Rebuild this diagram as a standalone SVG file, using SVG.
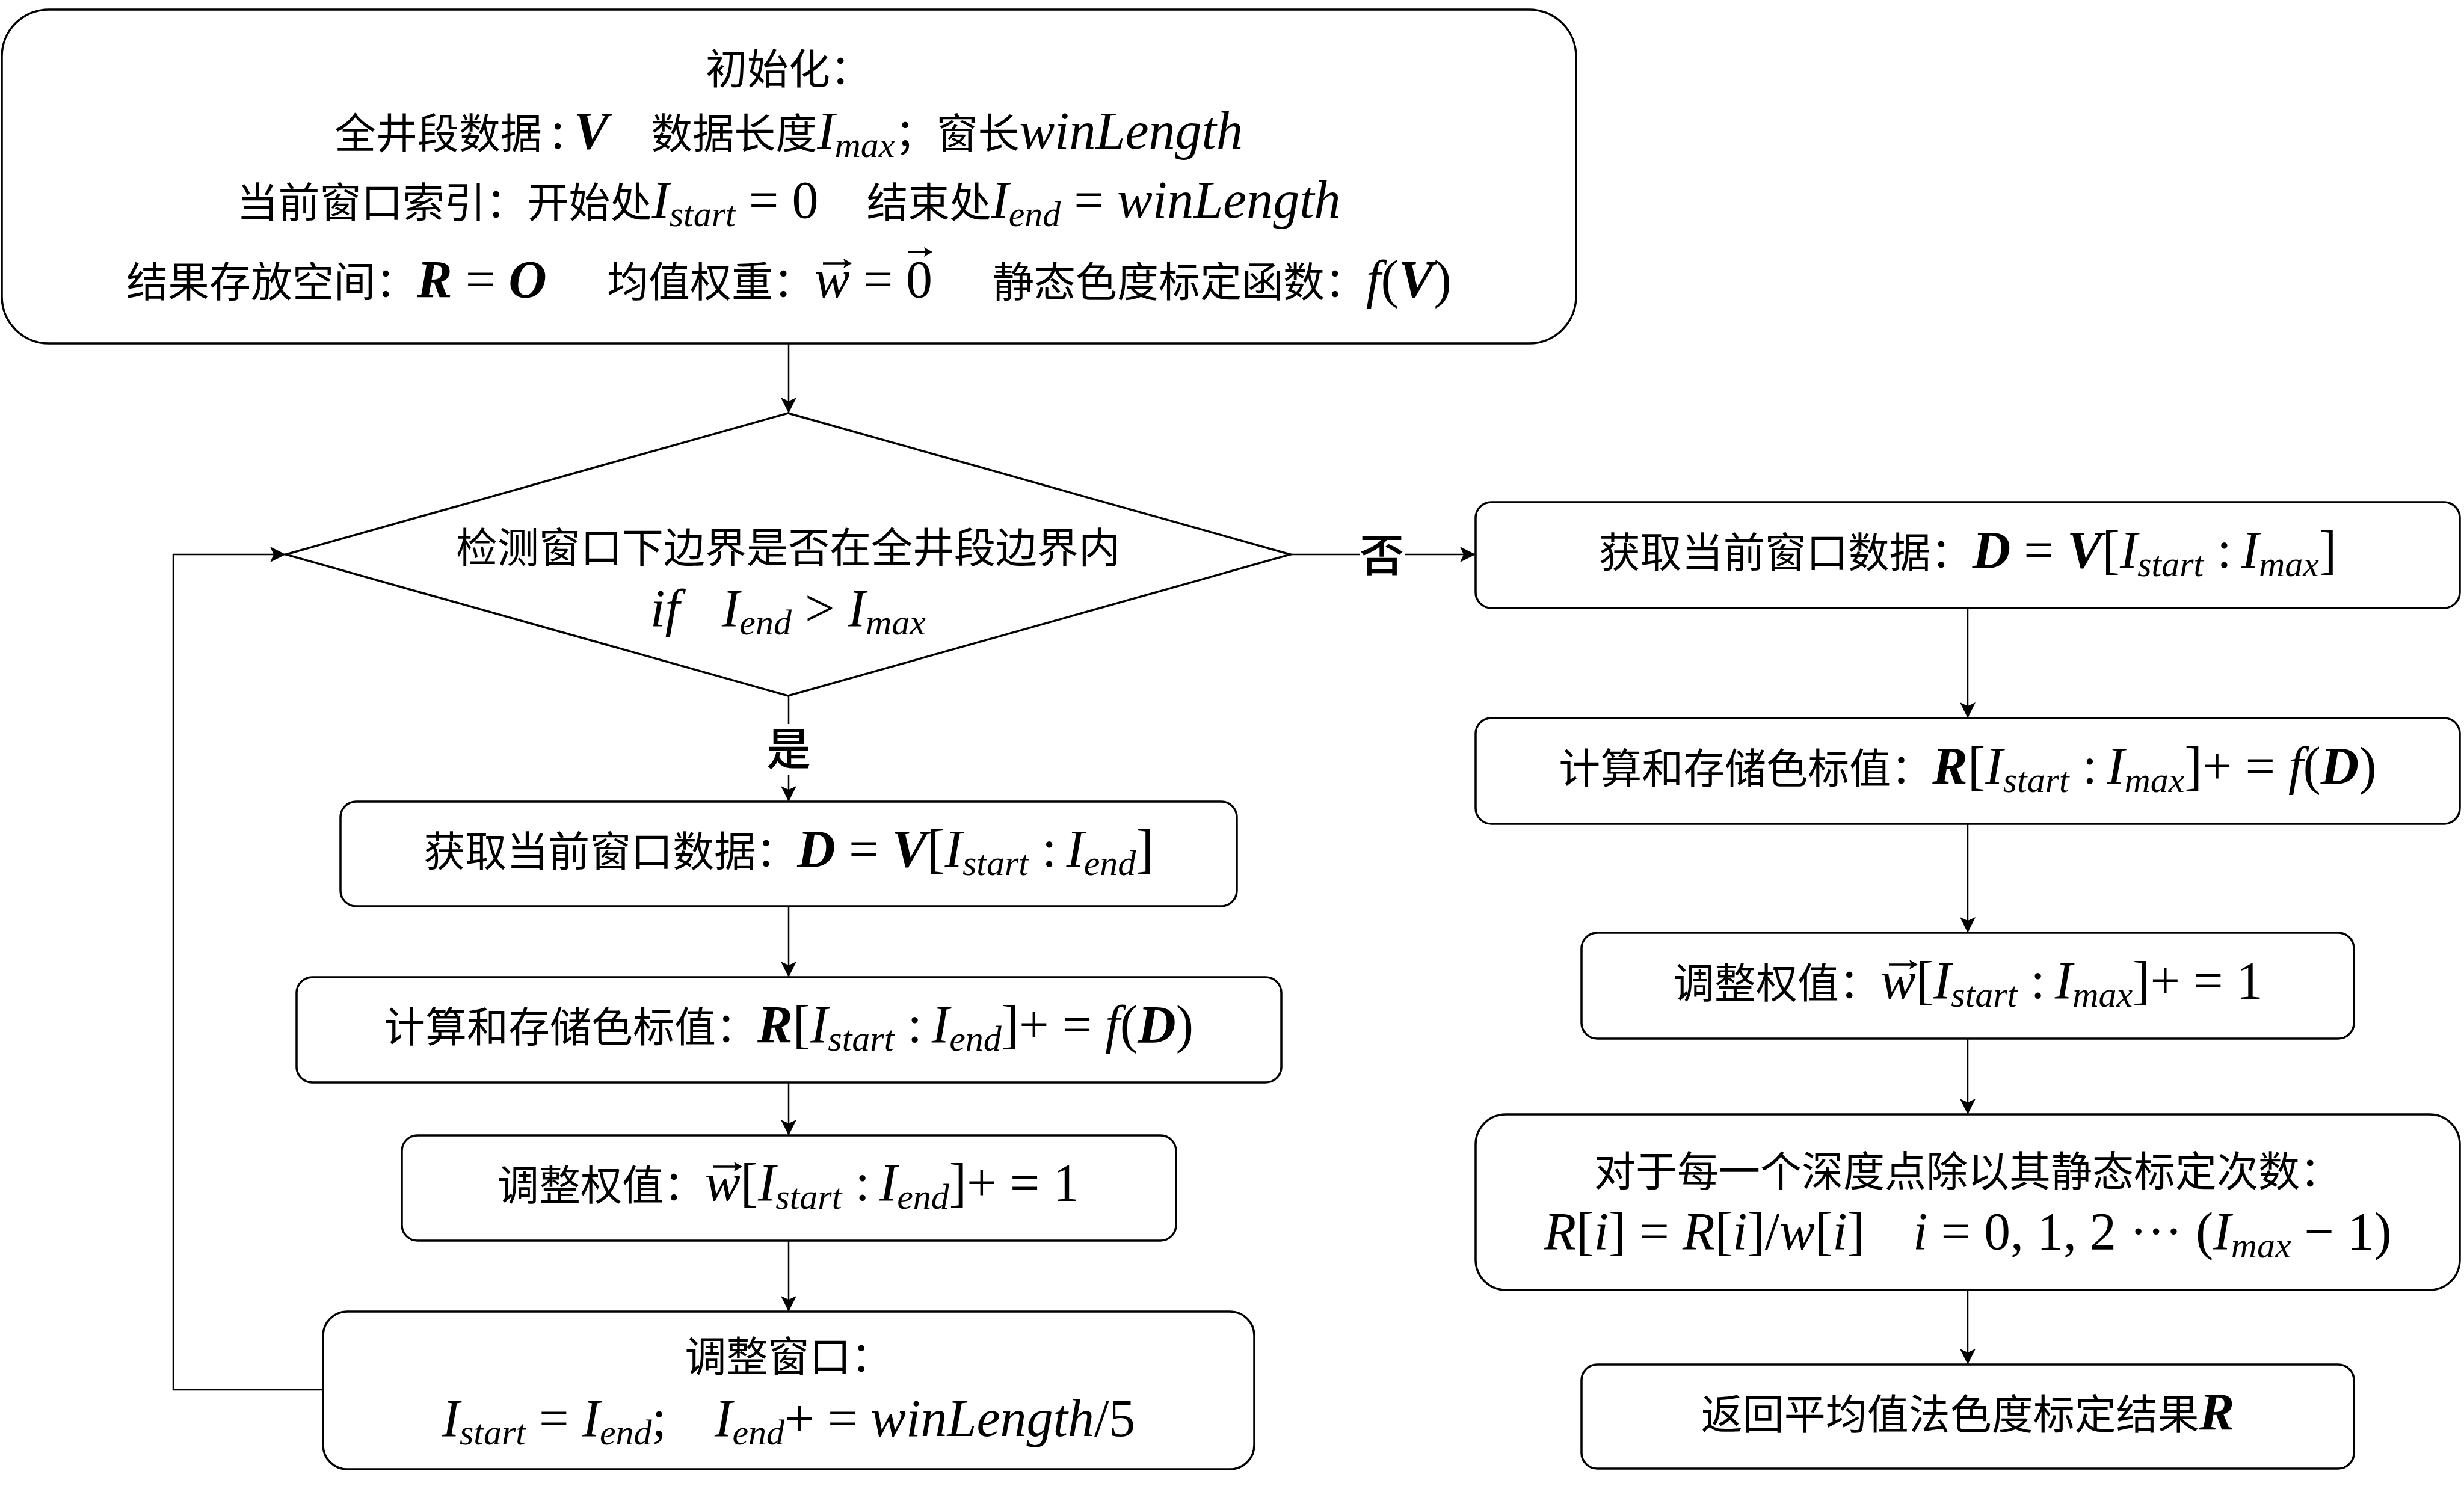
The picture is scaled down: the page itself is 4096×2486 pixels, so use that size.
<svg xmlns="http://www.w3.org/2000/svg" width="4096" height="2486" viewBox="0 0 4096 2486">
<style>
.bg{fill:#fff}
.box{fill:#fff;stroke:#000;stroke-width:3.5}
.con{fill:none;stroke:#000;stroke-width:2.5}
.vec{fill:none;stroke:#000;stroke-width:3.5}
.vh{fill:#000}
.t{font-family:"Noto Sans CJK SC","Noto Sans CJK JP",sans-serif;font-size:69px;fill:#000;text-anchor:middle}
.ts{font-family:"Noto Sans CJK SC","Noto Sans CJK JP",sans-serif;font-size:69px;fill:#000;text-anchor:start}
.lbl{font-family:"Noto Sans CJK SC",sans-serif;font-size:74px;font-weight:500;fill:#000;text-anchor:middle}
.mi{font-family:"Liberation Serif","DejaVu Serif",serif;font-style:italic;font-size:88px}
.mb{font-family:"Liberation Serif","DejaVu Serif",serif;font-style:italic;font-weight:bold;font-size:88px}
.mr{font-family:"Liberation Serif","DejaVu Serif",serif;font-style:normal;font-size:88px}
.s{font-size:60px}
</style>
<defs>
<marker id="arr" markerUnits="userSpaceOnUse" markerWidth="30" markerHeight="30" refX="26" refY="13" orient="auto">
<path d="M0,0 L26,13 L0,26 L6,13 Z" fill="#000"/>
</marker>
</defs>
<rect class="bg" x="0" y="0" width="4096" height="2486"/>

<g id="connectors">
<line class="con" x1="1311" y1="571" x2="1311" y2="687" marker-end="url(#arr)"/>
<line class="con" x1="2145" y1="922" x2="2453" y2="922" marker-end="url(#arr)"/>
<line class="con" x1="1311" y1="1157" x2="1311" y2="1333" marker-end="url(#arr)"/>
<line class="con" x1="1311" y1="1507" x2="1311" y2="1625" marker-end="url(#arr)"/>
<line class="con" x1="1311" y1="1800" x2="1311" y2="1888" marker-end="url(#arr)"/>
<line class="con" x1="1311" y1="2063" x2="1311" y2="2181" marker-end="url(#arr)"/>
<polyline class="con" points="537,2311 288,2311 288,922 475,922" marker-end="url(#arr)"/>
<line class="con" x1="3271" y1="1011" x2="3271" y2="1194" marker-end="url(#arr)"/>
<line class="con" x1="3271" y1="1370" x2="3271" y2="1551" marker-end="url(#arr)"/>
<line class="con" x1="3271" y1="1727" x2="3271" y2="1853" marker-end="url(#arr)"/>
<line class="con" x1="3271" y1="2145" x2="3271" y2="2269" marker-end="url(#arr)"/>
<rect class="bg" x="2260" y="886" width="76" height="74"/>
<text class="lbl" x="2297" y="950">否</text>
<rect class="bg" x="1274" y="1204" width="74" height="84"/>
<text class="lbl" x="1311" y="1272">是</text>
</g>

<g id="init">
<rect class="box" x="3" y="16" width="2617" height="555" rx="78" ry="78"/>
<text class="t" x="1311" y="140">初始化：</text>
<text class="t" x="1311" y="247">全井段数据<tspan class="mr" dx="14">:</tspan><tspan class="mb" dx="14">V</tspan><tspan dx="70">数据长度</tspan><tspan class="mi">I</tspan><tspan class="mi s" dy="14">max</tspan><tspan dy="-14">；窗长</tspan><tspan class="mi">winLength</tspan></text>
<text class="t" x="1311" y="362">当前窗口索引：开始处<tspan class="mi">I</tspan><tspan class="mi s" dy="14">start</tspan><tspan class="mr" dy="-14" dx="22">=</tspan><tspan class="mr" dx="22">0</tspan><tspan dx="80">结束处</tspan><tspan class="mi">I</tspan><tspan class="mi s" dy="14">end</tspan><tspan class="mr" dy="-14" dx="22">=</tspan><tspan class="mi" dx="22">winLength</tspan></text>
<text class="ts" x="210" y="494">结果存放空间：<tspan class="mb">R</tspan><tspan class="mr" dx="22">=</tspan><tspan class="mb" dx="22">O</tspan><tspan dx="100">均值权重：</tspan><tspan class="mi" x="1354">w</tspan><tspan class="mr" dx="22">=</tspan><tspan class="mr" x="1506">0</tspan><tspan dx="100">静态色度标定函数：</tspan><tspan class="mi">f</tspan><tspan class="mr">(</tspan><tspan class="mb">V</tspan><tspan class="mr">)</tspan></text>
<path class="vec" d="M1368,438 H1410"/>
<path class="vh" d="M1416,438 L1402,430 L1405,438 L1402,446 Z"/>
<path class="vec" d="M1509,419 H1544"/>
<path class="vh" d="M1550,419 L1536,411 L1539,419 L1536,427 Z"/>
</g>

<g id="check">
<polygon class="box" points="1310,687 2145,922 1310,1157 475,922"/>
<text class="t" x="1310" y="936">检测窗口下边界是否在全井段边界内</text>
<text class="t" x="1310" y="1041"><tspan class="mi">if</tspan><tspan class="mi" dx="70">I</tspan><tspan class="mi s" dy="14">end</tspan><tspan class="mr" dy="-14" dx="22">&gt;</tspan><tspan class="mi" dx="22">I</tspan><tspan class="mi s" dy="14">max</tspan></text>
</g>

<g id="left-get">
<rect class="box" x="566" y="1333" width="1490" height="174" rx="26" ry="26"/>
<text class="t" x="1311" y="1441">获取当前窗口数据：<tspan class="mb">D</tspan><tspan class="mr" dx="22">=</tspan><tspan class="mb" dx="22">V</tspan><tspan class="mr">[</tspan><tspan class="mi">I</tspan><tspan class="mi s" dy="14">start</tspan><tspan class="mr" dy="-14" dx="22">:</tspan><tspan class="mi" dx="16">I</tspan><tspan class="mi s" dy="14">end</tspan><tspan class="mr" dy="-14">]</tspan></text>
</g>

<g id="left-calc">
<rect class="box" x="493" y="1625" width="1637" height="175" rx="26" ry="26"/>
<text class="t" x="1311" y="1733">计算和存储色标值：<tspan class="mb">R</tspan><tspan class="mr">[</tspan><tspan class="mi">I</tspan><tspan class="mi s" dy="14">start</tspan><tspan class="mr" dy="-14" dx="22">:</tspan><tspan class="mi" dx="16">I</tspan><tspan class="mi s" dy="14">end</tspan><tspan class="mr" dy="-14">]+</tspan><tspan class="mr" dx="22">=</tspan><tspan class="mi" dx="22">f</tspan><tspan class="mr">(</tspan><tspan class="mb">D</tspan><tspan class="mr">)</tspan></text>
</g>

<g id="left-weight">
<rect class="box" x="668" y="1888" width="1287" height="175" rx="26" ry="26"/>
<text class="ts" x="827" y="1996">调整权值：<tspan class="mi" x="1172">w</tspan><tspan class="mr">[</tspan><tspan class="mi">I</tspan><tspan class="mi s" dy="14">start</tspan><tspan class="mr" dy="-14" dx="22">:</tspan><tspan class="mi" dx="16">I</tspan><tspan class="mi s" dy="14">end</tspan><tspan class="mr" dy="-14">]+</tspan><tspan class="mr" dx="22">=</tspan><tspan class="mr" dx="22">1</tspan></text>
<path class="vec" d="M1186,1940 H1228"/>
<path class="vh" d="M1234,1940 L1220,1932 L1223,1940 L1220,1948 Z"/>
</g>

<g id="left-window">
<rect class="box" x="537" y="2181" width="1548" height="262" rx="40" ry="40"/>
<text class="t" x="1311" y="2281">调整窗口：</text>
<text class="t" x="1311" y="2388"><tspan class="mi">I</tspan><tspan class="mi s" dy="14">start</tspan><tspan class="mr" dy="-14" dx="22">=</tspan><tspan class="mi" dx="22">I</tspan><tspan class="mi s" dy="14">end</tspan><tspan class="mr" dy="-14">;</tspan><tspan class="mi" dx="80">I</tspan><tspan class="mi s" dy="14">end</tspan><tspan class="mr" dy="-14">+</tspan><tspan class="mr" dx="22">=</tspan><tspan class="mi" dx="22">winLength</tspan><tspan class="mr">/5</tspan></text>
</g>

<g id="right-get">
<rect class="box" x="2453" y="835" width="1636" height="176" rx="26" ry="26"/>
<text class="t" x="3271" y="944">获取当前窗口数据：<tspan class="mb">D</tspan><tspan class="mr" dx="22">=</tspan><tspan class="mb" dx="22">V</tspan><tspan class="mr">[</tspan><tspan class="mi">I</tspan><tspan class="mi s" dy="14">start</tspan><tspan class="mr" dy="-14" dx="22">:</tspan><tspan class="mi" dx="16">I</tspan><tspan class="mi s" dy="14">max</tspan><tspan class="mr" dy="-14">]</tspan></text>
</g>

<g id="right-calc">
<rect class="box" x="2453" y="1194" width="1636" height="176" rx="26" ry="26"/>
<text class="t" x="3271" y="1303">计算和存储色标值：<tspan class="mb">R</tspan><tspan class="mr">[</tspan><tspan class="mi">I</tspan><tspan class="mi s" dy="14">start</tspan><tspan class="mr" dy="-14" dx="22">:</tspan><tspan class="mi" dx="16">I</tspan><tspan class="mi s" dy="14">max</tspan><tspan class="mr" dy="-14">]+</tspan><tspan class="mr" dx="22">=</tspan><tspan class="mi" dx="22">f</tspan><tspan class="mr">(</tspan><tspan class="mb">D</tspan><tspan class="mr">)</tspan></text>
</g>

<g id="right-weight">
<rect class="box" x="2629" y="1551" width="1284" height="176" rx="26" ry="26"/>
<text class="ts" x="2781" y="1660">调整权值：<tspan class="mi" x="3126">w</tspan><tspan class="mr">[</tspan><tspan class="mi">I</tspan><tspan class="mi s" dy="14">start</tspan><tspan class="mr" dy="-14" dx="22">:</tspan><tspan class="mi" dx="16">I</tspan><tspan class="mi s" dy="14">max</tspan><tspan class="mr" dy="-14">]+</tspan><tspan class="mr" dx="22">=</tspan><tspan class="mr" dx="22">1</tspan></text>
<path class="vec" d="M3140,1604 H3182"/>
<path class="vh" d="M3188,1604 L3174,1596 L3177,1604 L3174,1612 Z"/>
</g>

<g id="right-divide">
<rect class="box" x="2453" y="1853" width="1636" height="292" rx="50" ry="50"/>
<text class="t" x="3271" y="1973">对于每一个深度点除以其静态标定次数：</text>
<text class="t" x="3271" y="2077"><tspan class="mi">R</tspan><tspan class="mr">[</tspan><tspan class="mi">i</tspan><tspan class="mr">]</tspan><tspan class="mr" dx="22">=</tspan><tspan class="mi" dx="22">R</tspan><tspan class="mr">[</tspan><tspan class="mi">i</tspan><tspan class="mr">]/</tspan><tspan class="mi">w</tspan><tspan class="mr">[</tspan><tspan class="mi">i</tspan><tspan class="mr">]</tspan><tspan class="mi" dx="80">i</tspan><tspan class="mr" dx="22">=</tspan><tspan class="mr" dx="22">0, 1, 2 ··· (</tspan><tspan class="mi">I</tspan><tspan class="mi s" dy="14">max</tspan><tspan class="mr" dy="-14" dx="22">−</tspan><tspan class="mr" dx="22">1)</tspan></text>
</g>

<g id="right-return">
<rect class="box" x="2629" y="2269" width="1284" height="173" rx="26" ry="26"/>
<text class="t" x="3271" y="2377">返回平均值法色度标定结果<tspan class="mb">R</tspan></text>
</g>
</svg>
